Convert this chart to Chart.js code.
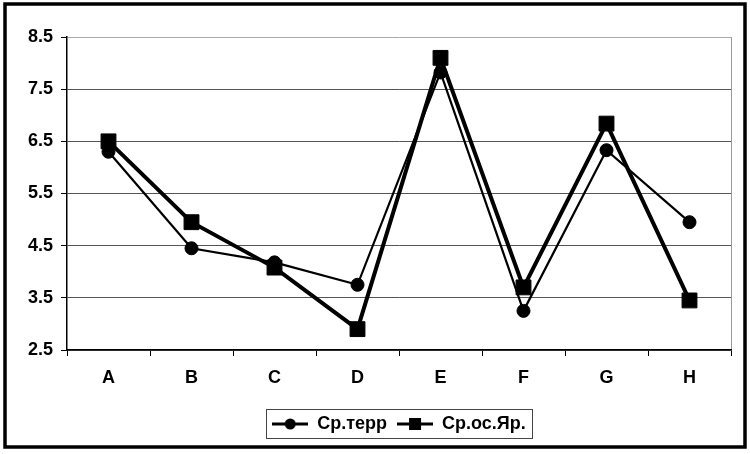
<!DOCTYPE html>
<html>
<head>
<meta charset="utf-8">
<script src="https://cdn.jsdelivr.net/npm/chart.js@4"></script>
<style>
  html, body { margin: 0; padding: 0; background: #fff; }
  canvas { display: block; }
</style>
</head>
<body>
<canvas id="chart" width="750" height="454"></canvas>
<script>
const categories = ['A', 'B', 'C', 'D', 'E', 'F', 'G', 'H'];
const srTerr = [6.3, 4.45, 4.18, 3.75, 7.82, 3.25, 6.33, 4.95];
const srOsYar = [6.5, 4.95, 4.08, 2.9, 8.1, 3.7, 6.84, 3.45];
const seriesNames = ['Ср.терр', 'Ср.ос.Яр.'];

Chart.defaults.font.family = "'Liberation Sans', Arial, sans-serif";
Chart.defaults.font.size = 18;
Chart.defaults.font.weight = 'bold';
Chart.defaults.color = '#000';

function legendIcon(style) {
  const c = document.createElement('canvas');
  c.width = 36; c.height = 16;
  const g = c.getContext('2d');
  g.fillStyle = g.strokeStyle = '#000';
  g.lineWidth = 3;
  g.beginPath(); g.moveTo(0, 8); g.lineTo(36, 8); g.stroke();
  if (style === 'circle') {
    g.beginPath(); g.arc(18, 8, 5.5, 0, Math.PI * 2); g.fill();
  } else {
    g.fillRect(12, 2, 12, 12);
  }
  return c;
}
const icons = [legendIcon('circle'), legendIcon('rect')];

// white page, thick outer frame, gray right edge of plot, legend box
const framePlugin = {
  id: 'frame',
  beforeDraw(chart) {
    const { ctx, chartArea: a } = chart;
    ctx.save();
    ctx.fillStyle = '#fff';
    ctx.fillRect(0, 0, chart.width, chart.height);
    ctx.strokeStyle = '#000';
    ctx.lineWidth = 3.5;
    ctx.strokeRect(5, 4, 740, 443);
    ctx.strokeStyle = '#999';
    ctx.lineWidth = 1;
    ctx.beginPath();
    ctx.moveTo(a.right + 0.5, a.top);
    ctx.lineTo(a.right + 0.5, a.bottom);
    ctx.stroke();
    ctx.restore();
  },
  afterLayout(chart) {
    const lg = chart.legend, a = chart.chartArea;
    const shift = (a.left + a.right) / 2 - (lg.left + lg.right) / 2;
    lg.left += shift; lg.right += shift;
  },
  afterDraw(chart) {
    const boxes = chart.legend.legendHitBoxes;
    if (!boxes || !boxes.length) return;
    const l = Math.min(...boxes.map(b => b.left));
    const r = Math.max(...boxes.map(b => b.left + b.width));
    const t = Math.min(...boxes.map(b => b.top));
    const btm = Math.max(...boxes.map(b => b.top + b.height));
    const ctx = chart.ctx;
    ctx.save();
    ctx.strokeStyle = '#444';
    ctx.lineWidth = 1;
    ctx.strokeRect(Math.round(l - 6) + 0.5, Math.round(t - 6) + 0.5, Math.round(r - l + 12), Math.round(btm - t + 11));
    ctx.restore();
  }
};

new Chart(document.getElementById('chart'), {
  type: 'line',
  data: {
    labels: categories,
    datasets: [
      {
        label: seriesNames[0], data: srTerr, order: 1,
        borderColor: '#000', backgroundColor: '#000', borderWidth: 2.2,
        pointStyle: 'circle', pointRadius: 6.5, pointBorderWidth: 1,
        pointBackgroundColor: '#000', pointBorderColor: '#000', tension: 0
      },
      {
        label: seriesNames[1], data: srOsYar, order: 0,
        borderColor: '#000', backgroundColor: '#000', borderWidth: 4,
        pointStyle: 'rect', pointRadius: 10.5, pointBorderWidth: 1,
        pointBackgroundColor: '#000', pointBorderColor: '#000', tension: 0
      }
    ]
  },
  options: {
    responsive: false,
    animation: false,
    layout: { padding: { left: 0, right: 19, top: 37, bottom: 11 } },
    plugins: {
      tooltip: { enabled: false },
      legend: {
        position: 'bottom',
        labels: {
          usePointStyle: true,
          pointStyleWidth: 36,
          padding: 10,
          font: { size: 18, weight: 'bold' },
          generateLabels: chart => chart.data.datasets.map((ds, i) => ({
            text: ds.label, pointStyle: icons[i], datasetIndex: i,
            fillStyle: '#000', strokeStyle: '#000', lineWidth: 0, hidden: false
          }))
        }
      }
    },
    scales: {
      x: {
        offset: true,
        grid: { offset: true, drawOnChartArea: false, tickLength: 6, color: '#000' },
        border: { color: '#000', width: 1.5 },
        ticks: { padding: 11, font: { size: 18, weight: 'bold' } },
        afterFit: s => { s.height = 55; }
      },
      y: {
        min: 2.5, max: 8.5,
        grid: {
          tickLength: 6,
          color: ctx => ctx.index === 6 ? '#aaa' : '#555',
          tickColor: '#000'
        },
        border: { color: '#000', width: 1.5 },
        ticks: { stepSize: 1, padding: 8, callback: v => Number(v).toFixed(1), font: { size: 18, weight: 'bold' } },
        afterFit: s => { s.width = 67; }
      }
    }
  },
  plugins: [framePlugin]
});
</script>
</body>
</html>
